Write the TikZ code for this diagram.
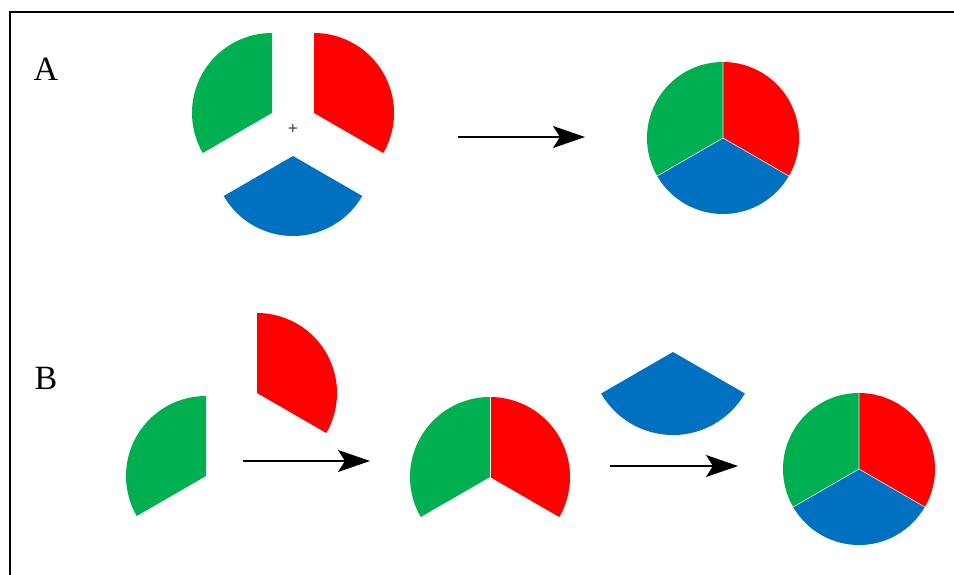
\documentclass[tikz,border=0pt]{standalone}
\usepackage{fontspec}
\setmainfont{Liberation Serif}
\usetikzlibrary{arrows.meta}
\definecolor{cgreen}{HTML}{00B050}
\definecolor{cred}{HTML}{FF0000}
\definecolor{cblue}{HTML}{0070C0}
\tikzset{
  arr/.style={line width=1.6pt,-{Stealth[length=32pt,width=22pt,inset=7pt]}},
  lbl/.style={font=\fontsize{34}{36}\selectfont, inner sep=0pt},
  sep/.style={draw=white!85!gray, line width=0.6pt},
}
\newcommand{\sect}[5]{% color, center, start, end, radius
  \fill[#1] (#2) -- ++(#3:#5) arc[start angle=#3, end angle=#4, radius=#5] -- cycle;}
\begin{document}
\begin{tikzpicture}[x=1pt,y=1pt]
\useasboundingbox (0,0) rectangle (954,574);
\draw[line width=1.2pt] (10,-5) -- (10,562) -- (960,562);
% labels
\node[lbl] (lA) at (46,505) {A};
\node[lbl] (lB) at (46,196) {B};
% Panel A exploded
\coordinate (agA) at (272,461);
\coordinate (arA) at (314,461);
\coordinate (abA) at (293,418);
\sect{cgreen}{agA}{90}{210}{80}
\sect{cred}{arA}{-30}{90}{80}
\sect{cblue}{abA}{210}{330}{80}
\node[font=\fontsize{18}{20}\selectfont, inner sep=0pt] (plus) at (293,445) {+};
% Panel A combined
\coordinate (pA) at (723,436);
\sect{cgreen}{pA}{90}{210}{76}
\sect{cred}{pA}{-30}{90}{76}
\sect{cblue}{pA}{210}{330}{76}
\draw[sep] (pA) -- ++(90:76) (pA) -- ++(210:76) (pA) -- ++(330:76);
% arrow A
\coordinate (a1s) at (458,437);
\coordinate (a1e) at (585,437);
\draw[arr] (a1s) -- (a1e);
% Panel B
\coordinate (bg) at (206,98);
\coordinate (br) at (257,181);
\sect{cgreen}{bg}{90}{210}{80}
\sect{cred}{br}{-30}{90}{80}
\coordinate (b1s) at (243,113);
\coordinate (b1e) at (370,113);
\draw[arr] (b1s) -- (b1e);
\coordinate (bh) at (490,97);
\sect{cgreen}{bh}{90}{210}{80}
\sect{cred}{bh}{-30}{90}{80}
\draw[sep] (bh) -- ++(90:80);
\coordinate (bb) at (673,222);
\sect{cblue}{bb}{210}{330}{83}
\coordinate (b2s) at (610,108);
\coordinate (b2e) at (738,108);
\draw[arr] (b2s) -- (b2e);
\coordinate (pB) at (859,105);
\sect{cgreen}{pB}{90}{210}{76}
\sect{cred}{pB}{-30}{90}{76}
\sect{cblue}{pB}{210}{330}{76}
\draw[sep] (pB) -- ++(90:76) (pB) -- ++(210:76) (pB) -- ++(330:76);
\end{tikzpicture}
\end{document}
